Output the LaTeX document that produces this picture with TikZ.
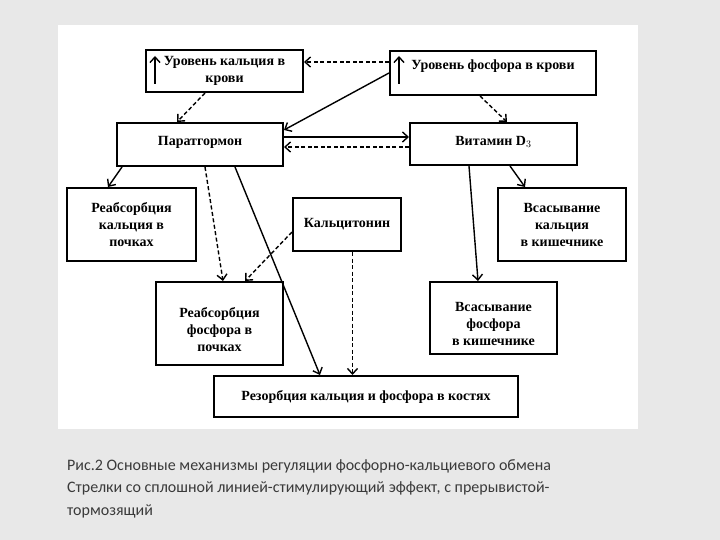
\documentclass[tikz,border=0pt]{standalone}
\usepackage{fontspec}
\setmainfont{Liberation Serif}
\newfontfamily\capfont{Carlito}
\usetikzlibrary{arrows.meta}
\definecolor{pagegray}{RGB}{232,232,232}
\definecolor{captiongray}{RGB}{58,58,58}

\begin{document}
\begin{tikzpicture}[x=1pt, y=-1pt,
    font=\bfseries\fontsize{14}{17}\selectfont,
    box/.style={draw, line width=2pt, align=center, inner sep=3pt},
    stim/.style={line width=1.4pt, -{Straight Barb[length=5.5pt,width=10pt]}},
    inhib/.style={stim, dash pattern=on 4pt off 2.5pt}]
  \fill[pagegray] (0,0) rectangle (720,540);
  \fill[white] (58,25) rectangle (638,429);

  \node[box, minimum width=157pt, minimum height=42pt] (cablood) at (224.5,71)
    {Уровень кальция в\\крови};
  \node[box, minimum width=206pt, minimum height=44pt, text depth=17pt] (pblood) at (493,73)
    {Уровень фосфора в крови};
  \node[box, minimum width=166pt, minimum height=43pt, text depth=8pt] (pth) at (200,144.5)
    {Паратгормон};
  \node[box, minimum width=167pt, minimum height=42pt, text depth=7pt] (vitd) at (493.5,144)
    {Витамин D$_3$};
  \node[box, minimum width=129pt, minimum height=73pt] (reabsca) at (131.5,224.5)
    {Реабсорбция\\кальция в\\почках};
  \node[box, minimum width=108pt, minimum height=53pt] (calcit) at (347,224.5)
    {Кальцитонин};
  \node[box, minimum width=128pt, minimum height=73pt] (absca) at (562,224.5)
    {Всасывание\\кальция\\в кишечнике};
  \node[box, minimum width=127pt, minimum height=83pt, text height=56pt] (reabsp) at (219.5,323.5)
    {Реабсорбция\\фосфора в\\почках};
  \node[box, minimum width=127pt, minimum height=72pt, text height=56pt] (absp) at (493.5,318)
    {Всасывание\\фосфора\\в кишечнике};
  \node[box, minimum width=304pt, minimum height=41pt] (resorp) at (366,396.5)
    {Резорбция кальция и фосфора в костях};

  \draw[stim] ([xshift=10pt,yshift=-13pt]cablood.west) -- ([xshift=10pt,yshift=15pt]cablood.west);
  \draw[stim] ([xshift=10pt,yshift=-11pt]pblood.west) -- ([xshift=10pt,yshift=17pt]pblood.west);

  \draw[inhib] ([yshift=11pt]pblood.west) -- ([yshift=9pt]cablood.east);
  \draw[stim] (pblood.west) -- ([yshift=14.5pt]pth.east);
  \draw[inhib] ([xshift=-19.5pt]cablood.south) -- ([xshift=-23pt]pth.north);
  \draw[inhib] ([xshift=-13pt]pblood.south) -- ([xshift=13.5pt]vitd.north);
  \draw[stim] ([yshift=7.5pt]pth.east) -- ([yshift=7pt]vitd.west);
  \draw[inhib] ([yshift=-3pt]vitd.west) -- ([yshift=-2.5pt]pth.east);
  \draw[stim] ([xshift=6pt]pth.south west) -- ([xshift=-23.5pt]reabsca.north);
  \draw[inhib] ([xshift=5pt]pth.south) -- ([xshift=3.5pt]reabsp.north);
  \draw[stim] ([xshift=35pt]pth.south) -- ([xshift=-46pt]resorp.north);
  \draw[inhib] ([yshift=-7.5pt]calcit.west) -- ([xshift=25.5pt]reabsp.north);
  \draw[inhib] ([xshift=5.5pt]calcit.south) -- ([xshift=-13.5pt]resorp.north);
  \draw[stim] ([xshift=16.5pt]vitd.south) -- ([xshift=-37pt]absca.north);
  \draw[stim] ([xshift=-24.5pt]vitd.south) -- ([xshift=-15.5pt]absp.north);

  \node[font=\capfont\fontsize{16}{22.5}\selectfont, text=captiongray, anchor=north west,
        align=left, inner sep=0pt] (caption) at (67,459)
    {Рис.2 Основные механизмы регуляции фосфорно-кальциевого обмена\\
     Стрелки со сплошной линией-стимулирующий эффект, с прерывистой-\\
     тормозящий};
\end{tikzpicture}
\end{document}
